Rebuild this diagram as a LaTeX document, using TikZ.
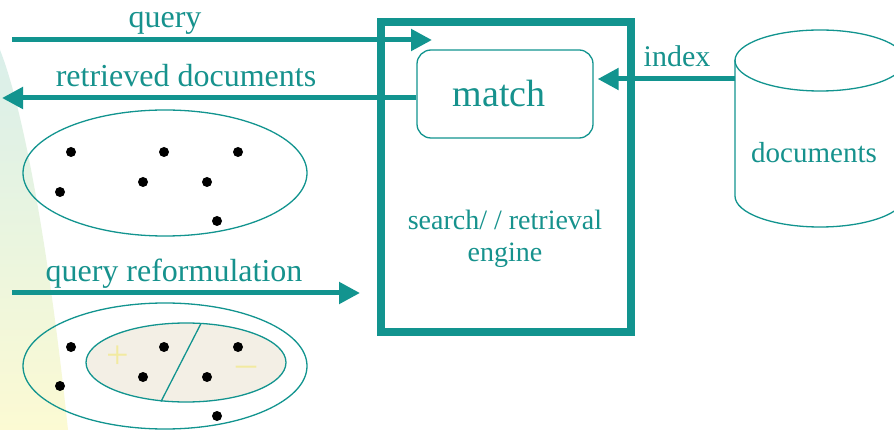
\documentclass[tikz,border=0pt]{standalone}
\usepackage{fontspec}
\setmainfont{Liberation Serif}
\usetikzlibrary{arrows.meta}
\definecolor{tealline}{HTML}{12948F}
\definecolor{tealtext}{HTML}{16928D}
\definecolor{pinfill}{HTML}{F3EFE5}
\definecolor{bgtop}{HTML}{DAEFEA}
\definecolor{bgmid}{HTML}{EAF5DF}
\definecolor{bgbot}{HTML}{FCFAD3}
\definecolor{signcol}{HTML}{F2EAA0}
\tikzset{
  lbl/.style={text=tealtext, anchor=base, inner sep=0pt},
  flow/.style={draw=tealline, line width=5pt,
    -{Triangle[length=21pt,width=21pt]}},
  thinl/.style={draw=tealline, line width=1.3pt},
  docdot/.style={fill=black, draw=none},
}
\newcommand{\fs}[1]{\fontsize{#1}{#1}\selectfont}
\begin{document}
\begin{tikzpicture}[x=1pt,y=-1pt]
\useasboundingbox (0,0) rectangle (894,430);
\fill[white] (0,0) rectangle (894,430);

% soft coloured band along the left edge
\shade[top color=bgtop, bottom color=bgbot, middle color=bgmid]
  (0,50) .. controls (22,105) and (48,240) .. (68,430) -- (0,430) -- cycle;

% search / retrieval engine
\node[draw=tealline, line width=8pt, minimum width=250pt, minimum height=310pt,
      inner sep=0pt] (engine) at (506,177) {};
\node[thinl, rounded corners=14pt, minimum width=176pt, minimum height=88pt,
      inner sep=0pt] (match) at (505,94) {};
\node[lbl] (matchtxt) at (499,107) {\fs{38}match};
\node[lbl] (eng1) at (505,230) {\fs{28}search/ / retrieval};
\node[lbl] (eng2) at (505,262) {\fs{28}engine};

% document collection (cylinder)
\draw[thinl] (735,60) -- (735,196)
  arc[start angle=180, end angle=360, x radius=85pt, y radius=31pt] -- (905,60);
\draw[thinl] (820,60.5) ellipse[x radius=85pt, y radius=30.5pt];
\node[lbl] (docs) at (814,163) {\fs{29}documents};

% flows
\coordinate (qs) at (12,40);
\coordinate (qe) at (432,40);
\draw[flow] (qs) -- (qe);
\node[lbl] (qlbl) at (165,28) {\fs{32}query};

\coordinate (rd) at (2,98);
\draw[flow] ([yshift=-4pt]match.west) -- (rd);
\node[lbl] (rdlbl) at (186,87) {\fs{32}retrieved documents};

\coordinate (idx) at (735,79);
\draw[flow, shorten >=4pt] (idx) -- (idx -| match.east);
\node[lbl] (idxlbl) at (677,67) {\fs{30}index};

\coordinate (rfs) at (12,293);
\coordinate (rfe) at (360,293);
\draw[flow] (rfs) -- (rfe);
\node[lbl] (rflbl) at (174,282) {\fs{32}query reformulation};

% first result set
\draw[thinl] (165,173) ellipse[x radius=142pt, y radius=63pt];
\foreach \p in {(71,152),(164,152),(238,152),(60,192),(143,182),(207,182),(217,221)}
  \fill[docdot] \p circle[radius=5pt];

% reformulated result set with relevance split
\draw[thinl] (165,366) ellipse[x radius=142pt, y radius=63pt];
\filldraw[thinl, fill=pinfill] (186,362.5) ellipse[x radius=100pt, y radius=39.5pt];
\draw[thinl] (201,323.5) -- (161,401.5);
\node[text=signcol, inner sep=0pt] (plus) at (118,357) {\fs{40}+};
\node[text=signcol, inner sep=0pt] (minus) at (246,371) {\fs{40}\textendash};
\foreach \p in {(71,347),(164,347),(238,347),(60,386),(143,377),(207,377),(217,416)}
  \fill[docdot] \p circle[radius=5pt];
\end{tikzpicture}
\end{document}
